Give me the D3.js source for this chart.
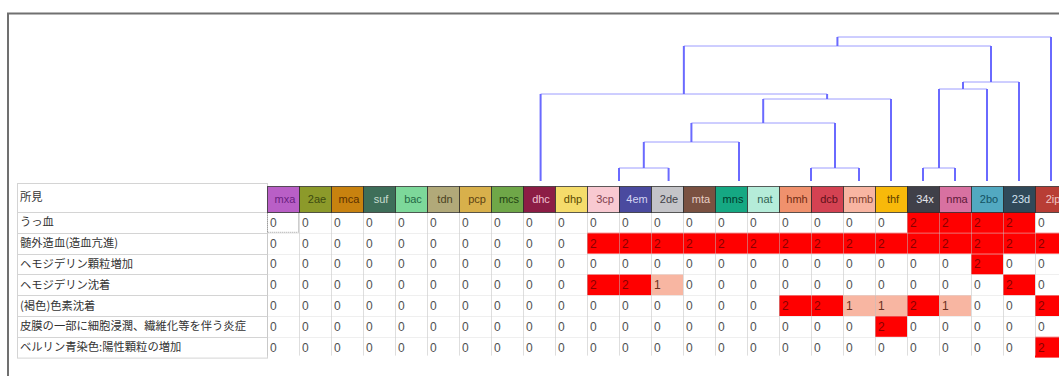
<!DOCTYPE html>
<html>
<head>
<meta charset="utf-8">
<script src="https://cdn.jsdelivr.net/npm/d3@7"></script>
<style>
  body { margin: 0; background: #fff; }
  svg { display: block; }
</style>
</head>
<body>
<div id="canvas"></div>
<script>
"use strict";

/* drawing size */
let svgWidth = 1059;
let svgHeight = 376;

/* sample columns (header row) */
const columns = ["mxa","2ae","mca","suf","bac","tdn","pcp","mcs","dhc","dhp","3cp","4em","2de",
                 "mta","mns","nat","hmh","dcb","mmb","thf","34x","nma","2bo","23d","2ip"];
const headerColors = ["#b95fc6","#8c9a2a","#c8820f","#3e6e59","#7dd89a","#b1a979","#d8b04b","#6fa748",
                      "#8c1d45","#f5dc6b","#f8c9d1","#4a4a9f","#c4c4c8","#7a5141","#15a883","#b5ecd9",
                      "#f0916d","#d44252","#f8b5a2","#f8b90a","#404049","#d871a1","#52a9c1","#304959","#b83d35"];
const headerTextColors = ["#6a2080","#3d4b10","#5a3000","#c8dccf","#246845","#4a4222","#5c4212","#214212",
                          "#f2c2d2","#5a4a00","#80414f","#d4d4f2","#404046","#e6cec6","#003a2a","#316252",
                          "#702a12","#5e1018","#7e3e2e","#5e4000","#e4e4ea","#5e1838","#125262","#d4e2f0","#f2c4c2"];

/* findings (rows) */
const findings = ["うっ血", "髄外造血(造血亢進)", "ヘモジデリン顆粒増加", "ヘモジデリン沈着",
                  "(褐色)色素沈着", "皮膜の一部に細胞浸潤、繊維化等を伴う炎症", "ベルリン青染色:陽性顆粒の増加"];

/* grade per finding, one value per column */
const grades = [
  [0,0,0,0,0,0,0,0,0,0,0,0,0,0,0,0,0,0,0,0,2,2,2,2,0],
  [0,0,0,0,0,0,0,0,0,0,2,2,2,2,2,2,2,2,2,2,2,2,2,2,2],
  [0,0,0,0,0,0,0,0,0,0,0,0,0,0,0,0,0,0,0,0,0,0,2,0,0],
  [0,0,0,0,0,0,0,0,0,0,2,2,1,0,0,0,0,0,0,0,0,0,0,2,0],
  [0,0,0,0,0,0,0,0,0,0,0,0,0,0,0,0,2,2,1,1,2,1,0,0,2],
  [0,0,0,0,0,0,0,0,0,0,0,0,0,0,0,0,0,0,0,2,0,0,0,0,0],
  [0,0,0,0,0,0,0,0,0,0,0,0,0,0,0,0,0,0,0,0,0,0,0,0,2]
];

/* dendrogram: leaf positions (in column units) and merges [a, b, height] */
const dendroLeaves = [8.55, 11, 12.55, 14.75, 17, 18.5, 19.5, 20.5, 21.5, 22.5, 23.5, 24.5];
const dendroMerges = [
  [1, 2, 13],
  [12, 3, 39],
  [4, 5, 13],
  [13, 14, 58],
  [15, 6, 82],
  [0, 16, 87],
  [7, 8, 13],
  [18, 9, 92],
  [19, 10, 99],
  [17, 20, 135],
  [21, 11, 144]
];

const gradeFill = { 0: "none", 1: "#f8b6a2", 2: "#ff0000" };
const gradeText = { 0: "#505050", 1: "#6a3020", 2: "#8a0000" };

// layout
const colW = 32;
const tableLeft = 267;
const labelLeft = 17;
const headTop = 186;
const headBottom = 212;
const rowH = 20.8;

d3.select("#canvas").selectAll("*").remove();

const svg = d3.select("#canvas")
  .append("svg")
  .attr("width", svgWidth)
  .attr("height", svgHeight);

// scales
const x = d3.scaleLinear()
  .domain([0, columns.length])
  .range([tableLeft, tableLeft + colW * columns.length]);

const y = d3.scaleLinear()
  .domain([0, findings.length])
  .range([headBottom, headBottom + rowH * findings.length]);

const yDendro = d3.scaleLinear()
  .domain([0, 144])
  .range([181, 37]);

const jpFont = "'Noto Sans CJK JP', 'Noto Sans', sans-serif";
const numFont = "'Liberation Sans', Arial, sans-serif";

// frame
svg.append("path")
  .attr("d", `M8,${svgHeight} V13.5 H${svgWidth}`)
  .attr("fill", "none")
  .attr("stroke", "#707070")
  .attr("stroke-width", 2);

/* === label column === */
const labelG = svg.append("g");

labelG.append("rect")
  .attr("x", labelLeft + 0.5)
  .attr("y", 183.5)
  .attr("width", tableLeft - labelLeft)
  .attr("height", y(findings.length) - 183)
  .attr("fill", "#fff")
  .attr("stroke", "#d4d4d4");

labelG.selectAll("line.row")
  .data(d3.range(findings.length))
  .enter()
  .append("line")
  .attr("x1", labelLeft)
  .attr("x2", tableLeft)
  .attr("y1", i => Math.round(y(i)) + 0.5)
  .attr("y2", i => Math.round(y(i)) + 0.5)
  .attr("stroke", "#d4d4d4");

labelG.append("text")
  .attr("x", 20)
  .attr("y", (183 + headBottom) / 2)
  .attr("dy", "0.35em")
  .attr("font-family", jpFont)
  .attr("font-size", "11.3px")
  .attr("fill", "#333")
  .text("所見");

labelG.selectAll("text.finding")
  .data(findings)
  .enter()
  .append("text")
  .classed("finding", true)
  .attr("x", 20)
  .attr("y", (d, i) => y(i + 0.5))
  .attr("dy", "0.35em")
  .attr("font-family", jpFont)
  .attr("font-size", "11.3px")
  .attr("fill", "#333")
  .text(d => d);

/* === data cells === */
const cells = [];
grades.forEach((row, r) => row.forEach((v, c) => cells.push({ r, c, v })));

const cellG = svg.append("g");

cellG.selectAll("rect.cell")
  .data(cells.filter(d => d.v > 0))
  .enter()
  .append("rect")
  .classed("cell", true)
  .attr("x", d => x(d.c))
  .attr("y", d => y(d.r))
  .attr("width", colW)
  .attr("height", rowH)
  .attr("fill", d => gradeFill[d.v]);

// grid
cellG.selectAll("line.vgrid")
  .data(d3.range(columns.length + 1))
  .enter()
  .append("line")
  .attr("x1", i => Math.round(x(i)) + 0.5)
  .attr("x2", i => Math.round(x(i)) + 0.5)
  .attr("y1", headBottom)
  .attr("y2", y(findings.length) - 2)
  .attr("stroke", "rgba(190,190,190,0.5)");

cellG.selectAll("line.hgrid")
  .data(d3.range(1, findings.length))
  .enter()
  .append("line")
  .attr("x1", tableLeft)
  .attr("x2", svgWidth)
  .attr("y1", i => Math.round(y(i)) + 0.5)
  .attr("y2", i => Math.round(y(i)) + 0.5)
  .attr("stroke", "rgba(210,210,210,0.35)");

cellG.selectAll("text.val")
  .data(cells)
  .enter()
  .append("text")
  .attr("x", d => x(d.c) + 3)
  .attr("y", d => y(d.r + 0.5))
  .attr("dy", "0.36em")
  .attr("font-family", numFont)
  .attr("font-size", "12px")
  .attr("fill", d => gradeText[d.v])
  .text(d => d.v);

// focused cell outline
cellG.append("rect")
  .attr("x", x(0) + 0.5)
  .attr("y", y(0) + 0.5)
  .attr("width", colW - 1)
  .attr("height", rowH - 1)
  .attr("fill", "none")
  .attr("stroke", "#9a9a9a")
  .attr("stroke-dasharray", "1,1");

/* === header cells === */
const headG = svg.append("g");

headG.selectAll("rect.head")
  .data(columns)
  .enter()
  .append("rect")
  .attr("x", (d, i) => x(i) + 0.5)
  .attr("y", headTop + 0.5)
  .attr("width", colW)
  .attr("height", headBottom - headTop)
  .attr("fill", (d, i) => headerColors[i])
  .attr("stroke", "rgba(40,40,40,0.75)");

headG.selectAll("text.head")
  .data(columns)
  .enter()
  .append("text")
  .attr("x", (d, i) => x(i + 0.5) + 2)
  .attr("y", (headTop + headBottom) / 2)
  .attr("dy", "0.35em")
  .attr("text-anchor", "middle")
  .attr("font-family", numFont)
  .attr("font-size", "11px")
  .attr("fill", (d, i) => headerTextColors[i])
  .text(d => d);

/* === dendrogram === */
const nodeX = dendroLeaves.map(p => x(p));
const nodeH = dendroLeaves.map(() => 0);
const dendroG = svg.append("g").attr("fill", "none");

dendroMerges.forEach(([a, b, h]) => {
  const xa = nodeX[a], xb = nodeX[b];
  dendroG.append("line")
    .attr("x1", xa).attr("x2", xb)
    .attr("y1", yDendro(h)).attr("y2", yDendro(h))
    .attr("stroke", "#9c9cff")
    .attr("stroke-width", 1);
  [a, b].forEach(n => {
    dendroG.append("line")
      .attr("x1", nodeX[n]).attr("x2", nodeX[n])
      .attr("y1", yDendro(h)).attr("y2", yDendro(nodeH[n]))
      .attr("stroke", "#6a6aff")
      .attr("stroke-width", 2);
  });
  nodeX.push((xa + xb) / 2);
  nodeH.push(h);
});
</script>
</body>
</html>
